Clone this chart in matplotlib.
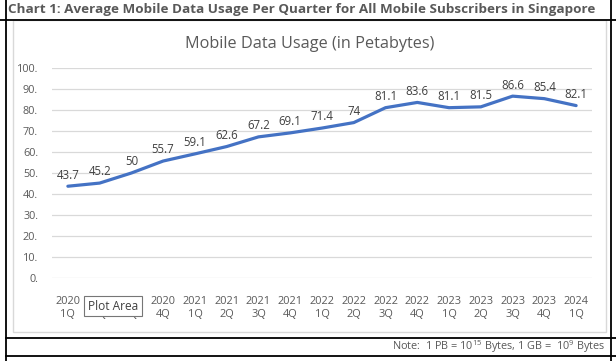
import matplotlib.pyplot as plt
from matplotlib.patches import Rectangle
from matplotlib.lines import Line2D

# data
years = ['2020'] * 4 + ['2021'] * 4 + ['2022'] * 4 + ['2023'] * 4 + ['2024']
quarters = ['1Q', '2Q', '3Q', '4Q'] * 4 + ['1Q']
usage = [43.7, 45.2, 50, 55.7, 59.1, 62.6, 67.2, 69.1, 71.4, 74,
         81.1, 83.6, 81.1, 81.5, 86.6, 85.4, 82.1]
usage_labels = ['43.7', '45.2', '50', '55.7', '59.1', '62.6', '67.2', '69.1', '71.4', '74',
                '81.1', '83.6', '81.1', '81.5', '86.6', '85.4', '82.1']
yticks = [0, 10, 20, 30, 40, 50, 60, 70, 80, 90, 100]

W, H = 616, 361
plt.rcParams['font.family'] = ['Open Sans', 'DejaVu Sans']
plt.rcParams['mathtext.fontset'] = 'custom'
plt.rcParams['mathtext.rm'] = 'Open Sans'
plt.rcParams['mathtext.it'] = 'Open Sans'

fig = plt.figure(figsize=(W / 100, H / 100), dpi=100)
fig.patch.set_facecolor('white')

def fx(px):
    return px / W

def fy(py):
    return 1 - py / H

grey = '#595959'

# table frame lines
for (x0, y0, x1, y1) in [(0, 20, W, 20), (6, 0, 6, H), (611, 0, 611, H),
                         (6, 338, W, 338), (6, 356, W, 356)]:
    fig.add_artist(Line2D([fx(x0), fx(x1)], [fy(y0), fy(y1)], color='black', lw=1.3))

# chart area border
fig.add_artist(Rectangle((fx(13), fy(332)), fx(606 - 13), (332 - 20) / H,
                         fill=False, edgecolor='#D9D9D9', lw=1))

fig.text(fx(8), fy(10), 'Chart 1: Average Mobile Data Usage Per Quarter for All Mobile Subscribers in Singapore',
         fontsize=9.7, fontweight='bold', color=grey, va='center', ha='left')

fig.text(fx(310), fy(44), 'Mobile Data Usage (in Petabytes)', fontsize=11.7, color=grey,
         ha='center', va='center')

fig.text(fx(605), fy(347), r'Note:  1 PB = 10$^{15}$ Bytes, 1 GB =  10$^{9}$ Bytes',
         fontsize=7.8, color=grey, ha='right', va='center')

ax = fig.add_axes([fx(52), fy(278), fx(592 - 52), (278 - 68) / H])
x = list(range(len(usage)))
ax.plot(x, usage, color='#4472C4', lw=2.3, solid_capstyle='round')
for xi, v, s in zip(x, usage, usage_labels):
    ax.annotate(s, (xi, v), xytext=(0, 8), textcoords='offset points',
                ha='center', va='center', fontsize=8.3, color='#404040')

ax.set_xlim(-0.5, len(usage) - 0.5)
ax.set_ylim(0, 100)
ax.set_yticks(yticks)
ax.set_yticklabels([f'{t}.' for t in yticks], fontsize=7.8, color=grey)
ax.set_xticks(x)
ax.set_xticklabels([f'{a}\n{b}' for a, b in zip(years, quarters)], fontsize=7.9,
                   color=grey, linespacing=1.2)
ax.tick_params(length=0, pad=10)
ax.tick_params(axis='x', pad=13)
ax.grid(axis='y', color='#D9D9D9', lw=0.9)
ax.set_axisbelow(True)
for sp in ax.spines.values():
    sp.set_visible(False)

# "Plot Area" tooltip as in the screenshot
fig.text(fx(113), fy(306), 'Plot Area', fontsize=8.6, color='#404040', ha='center', va='center',
         zorder=10,
         bbox=dict(boxstyle='square,pad=0.3', facecolor='white', edgecolor='#767676', lw=0.8))

fig.savefig('out.png', dpi=100)
